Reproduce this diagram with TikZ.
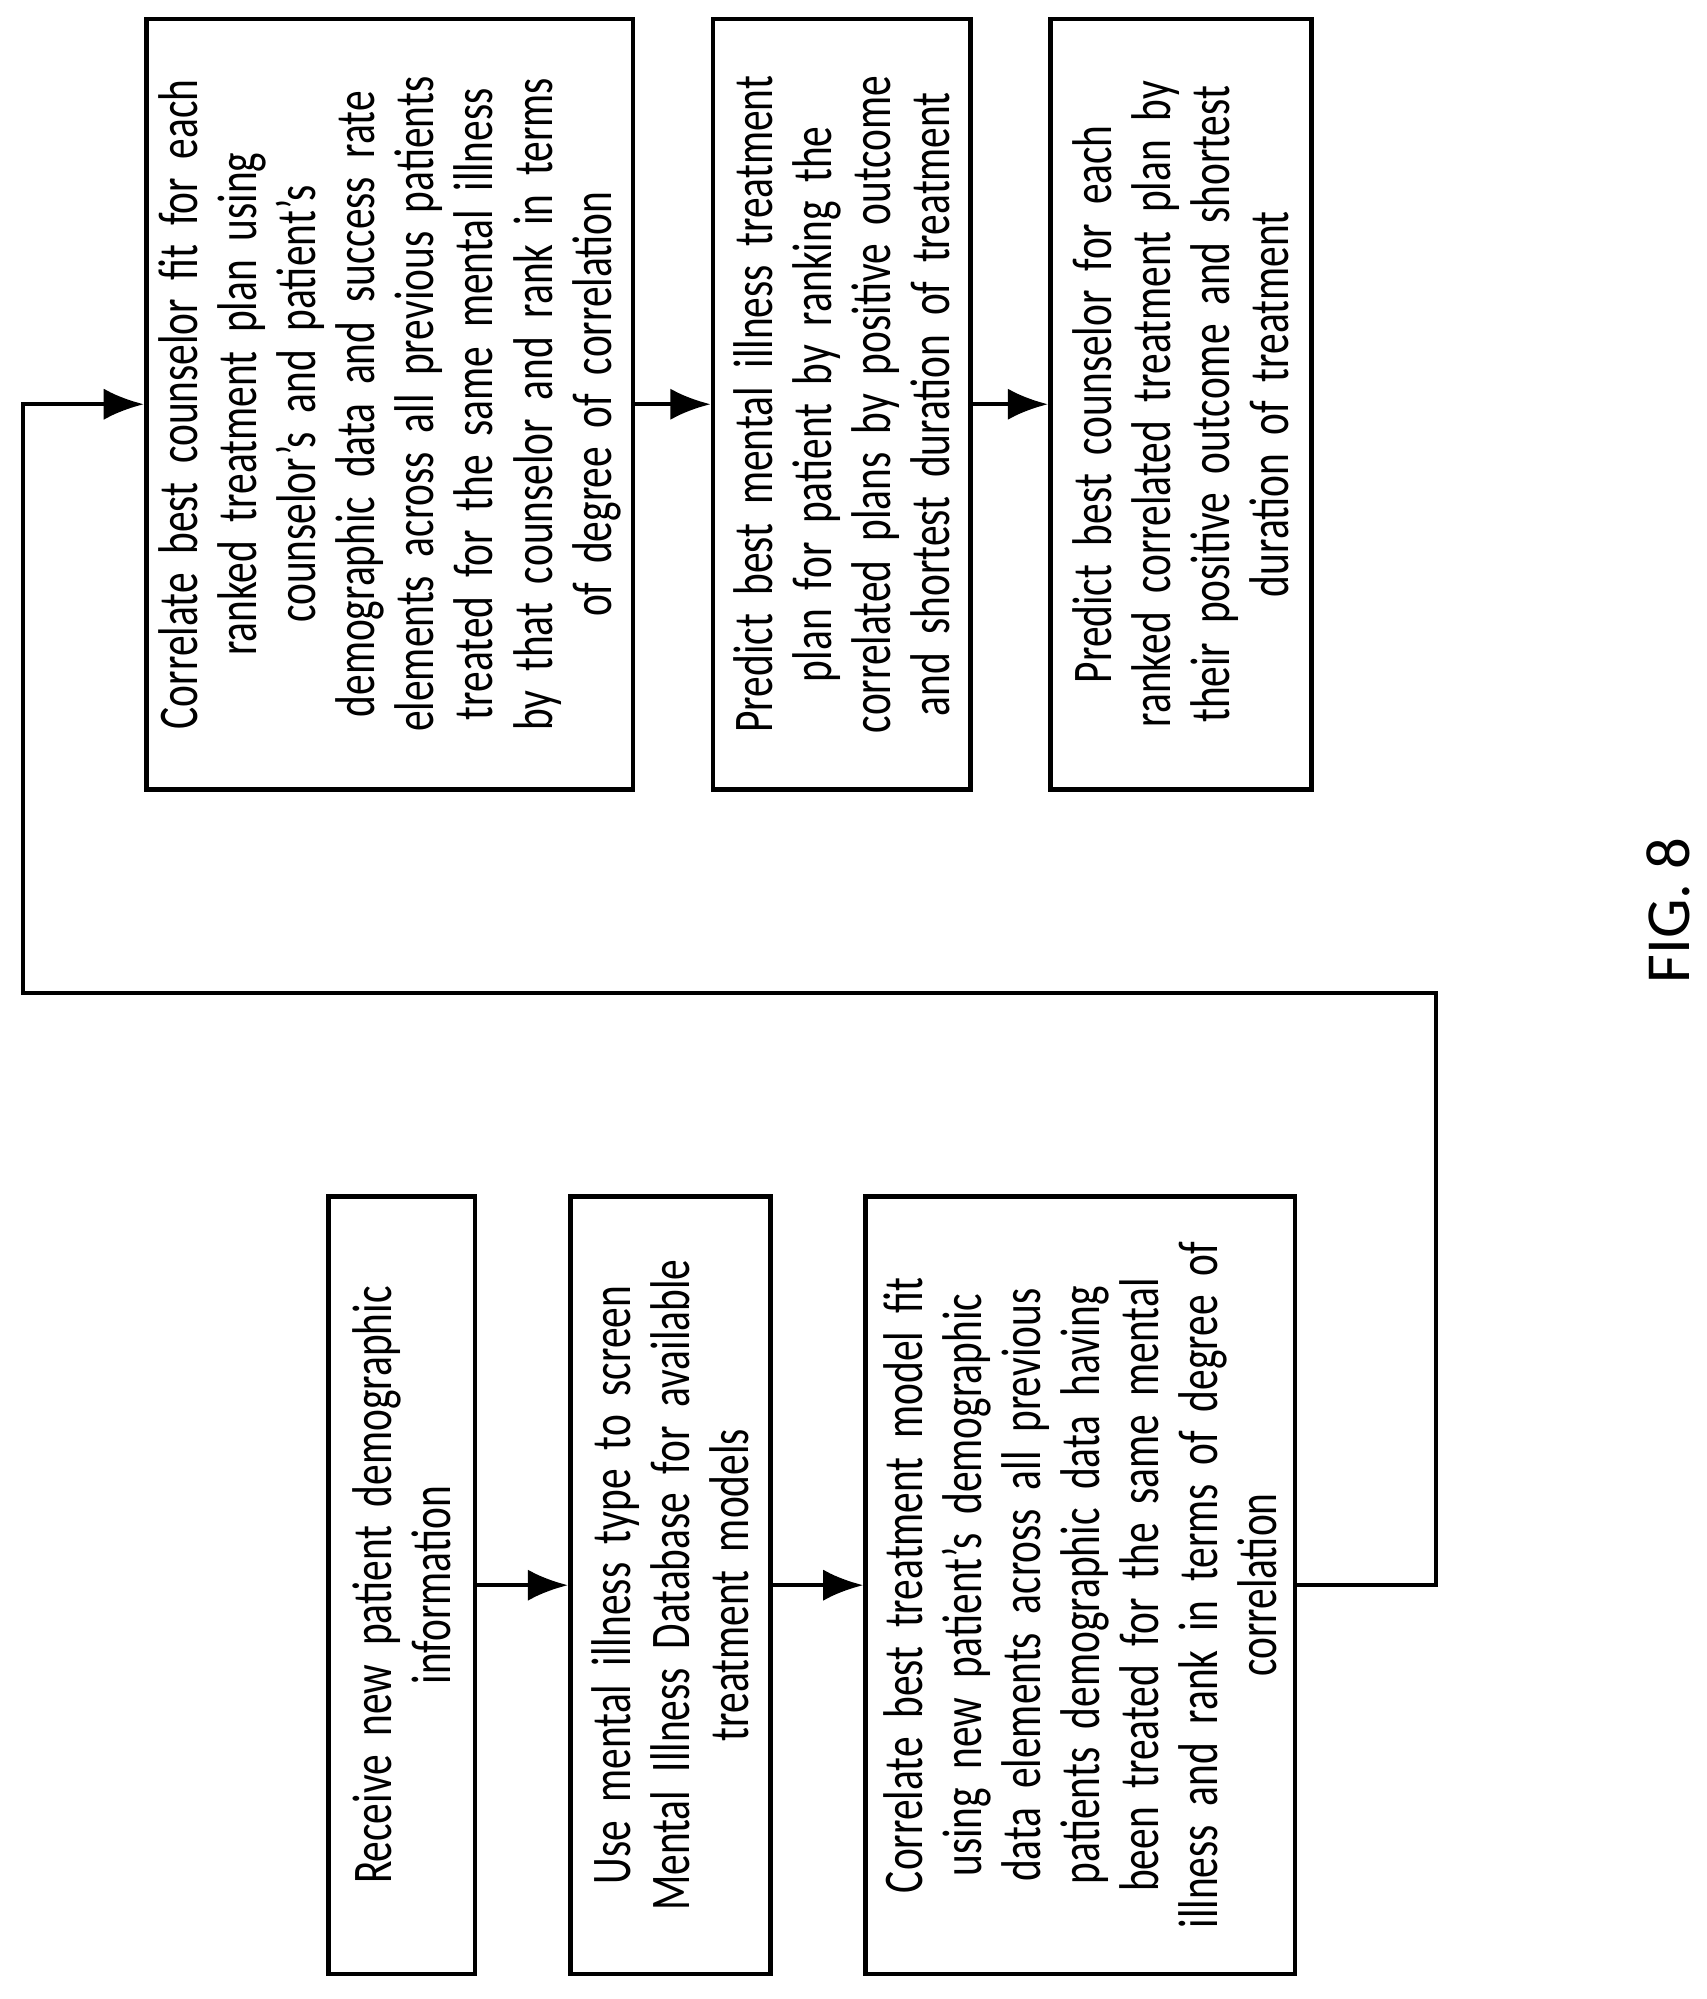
\documentclass[tikz,border=0pt]{standalone}
\usepackage{fontspec}
\setmainfont{Carlito}[FakeStretch=0.74,WordSpace=0.6]
\newfontfamily\figfont{Carlito}
\usetikzlibrary{arrows.meta}
\begin{document}
\begin{tikzpicture}[x=0.01cm,y=0.01cm,
  box/.style={draw,line width=1pt,rotate=90,align=center,inner sep=2pt,
    font=\fontsize{12.5pt}{13.2pt}\selectfont},
  arr/.style={-{Latex[length=9pt,width=7pt]},line width=1pt}]
\useasboundingbox (0,0) rectangle (1340,1570);
\node[box,minimum width=6.1cm,minimum height=1.15cm,text width=5.9cm] (A) at (315.5,325) {Receive new patient demographic\\information};
\node[box,minimum width=6.1cm,minimum height=1.57cm,text width=5.9cm] (B) at (526.5,325) {Use mental illness type to screen\\Mental Illness Database for available\\treatment models};
\node[box,minimum width=6.1cm,minimum height=3.37cm,text width=5.9cm] (C) at (848.5,325) {Correlate best treatment model fit\\using new patient’s demographic\\data elements across all previous\\patients demographic data having\\been treated for the same mental\\illness and rank in terms of degree of\\correlation};
\node[box,minimum width=6.05cm,minimum height=3.82cm,text width=5.9cm] (D) at (306,1252.5) {Correlate best counselor fit for each\\ranked treatment plan using\\counselor’s and patient’s\\demographic data and success rate\\elements across all previous patients\\treated for the same mental illness\\by that counselor and rank in terms\\of degree of correlation};
\node[box,minimum width=6.05cm,minimum height=2.02cm,text width=5.9cm] (E) at (661,1252.5) {Predict best mental illness treatment\\plan for patient by ranking the\\correlated plans by positive outcome\\and shortest duration of treatment};
\node[box,minimum width=6.05cm,minimum height=2.05cm,text width=5.9cm] (F) at (927.5,1252.5) {Predict best counselor for each\\ranked correlated treatment plan by\\their positive outcome and shortest\\duration of treatment};
\node[rotate=90,font=\figfont\fontsize{14pt}{15pt}\selectfont] (fig) at (1310,855) {FIG. 8};
\coordinate (k1) at (1128,790);
\coordinate (k2) at (18,790);
\draw[arr] (A.south) -- (B.north);
\draw[arr] (B.south) -- (C.north);
\draw[arr] (C.south) -| (k1) -- (k2) |- (D.north);
\draw[arr] (D.south) -- (E.north);
\draw[arr] (E.south) -- (F.north);
\end{tikzpicture}
\end{document}
